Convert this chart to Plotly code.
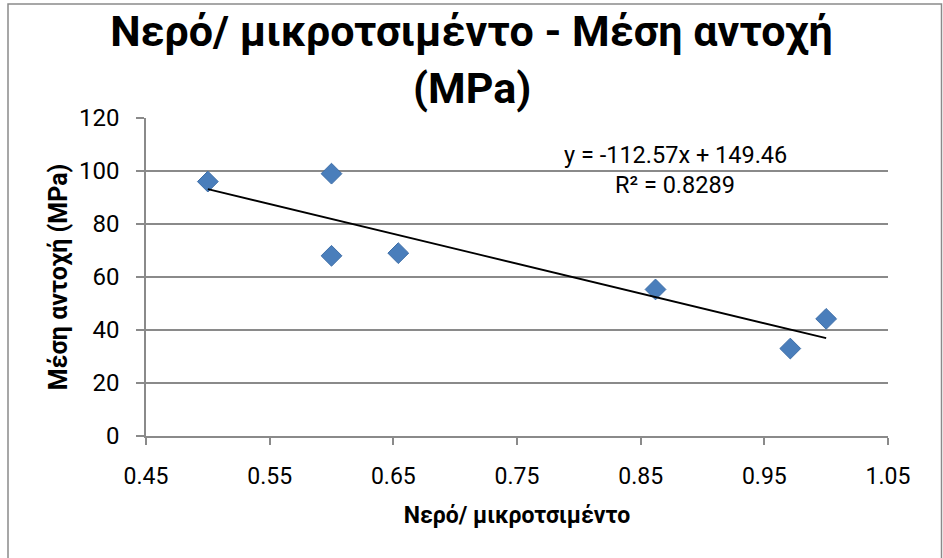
import plotly.graph_objects as go

# Data
water_cement = [0.5, 0.6, 0.6, 0.654, 0.862, 0.971, 1.0]
mean_strength = [96.0, 99.0, 68.0, 69.0, 55.3, 33.0, 44.2]

# Linear trendline shown in the chart (coefficients as labelled)
slope = -112.57
intercept = 149.46
r_squared = 0.8289

x_ticks = [0.45, 0.55, 0.65, 0.75, 0.85, 0.95, 1.05]
x_tick_labels = ["0.45", "0.55", "0.65", "0.75", "0.85", "0.95", "1.05"]
y_ticks = [0, 20, 40, 60, 80, 100, 120]

title_line1 = "Νερό/ μικροτσιμέντο - Μέση αντοχή"
title_line2 = "(MPa)"
x_title = "Νερό/ μικροτσιμέντο"
y_title = "Μέση αντοχή (MPa)"

trend_x = [min(water_cement), max(water_cement)]
trend_y = [slope * v + intercept for v in trend_x]

FONT = "Roboto, 'Noto Sans', sans-serif"
GRID = "#8a8a8a"
TITLE_SIZE = 43

fig = go.Figure()
fig.add_trace(go.Scatter(
    x=water_cement, y=mean_strength, mode="markers",
    marker=dict(symbol="diamond", size=16, color="#4a7ebb",
                line=dict(color="#3f6fa8", width=1)),
    showlegend=False, hoverinfo="x+y",
))
fig.add_trace(go.Scatter(
    x=trend_x, y=trend_y, mode="lines",
    line=dict(color="black", width=1.8),
    showlegend=False, hoverinfo="skip",
))

W, H = 943, 558
L, R, T, B = 146, 55, 118, 122
pw, ph = W - L - R, H - T - B

def px_x(p):
    return (p - L) / pw

def px_y(p):
    return (H - B - p) / ph

fig.update_layout(
    width=W, height=H,
    margin=dict(l=L, r=R, t=T, b=B),
    paper_bgcolor="white", plot_bgcolor="white",
    font=dict(family=FONT, color="black"),
    title=dict(text=title_line1, x=0.5, xanchor="center",
               y=1 - 31 / H, yanchor="middle", yref="container",
               font=dict(family=FONT, size=TITLE_SIZE, color="black", weight="bold")),
    xaxis=dict(
        range=[0.45, 1.05], tickvals=x_ticks, ticktext=x_tick_labels,
        showgrid=False, zeroline=False,
        showline=True, linecolor=GRID, linewidth=1.5,
        ticks="outside", ticklen=7, tickcolor=GRID, tickwidth=1.5,
        ticklabelstandoff=12,
        tickfont=dict(size=23, family=FONT, color="black"),
        title=dict(text=x_title, standoff=18,
                   font=dict(size=23, family=FONT, color="black", weight="bold")),
    ),
    yaxis=dict(
        range=[0, 120], tickvals=y_ticks,
        showgrid=True, gridcolor=GRID, gridwidth=1.5,
        zeroline=False,
        showline=True, linecolor=GRID, linewidth=1.5,
        ticks="outside", ticklen=8, tickcolor=GRID, tickwidth=1.5,
        ticklabelstandoff=12,
        tickfont=dict(size=24, family=FONT, color="black"),
        title=dict(text=y_title, standoff=4,
                   font=dict(size=25, family=FONT, color="black", weight="bold")),
    ),
    shapes=[dict(type="rect", xref="paper", yref="paper",
                 x0=px_x(8), x1=px_x(941.5), y0=px_y(570), y1=px_y(4),
                 line=dict(color="#8a8a8a", width=1.5), layer="below")],
    annotations=[
        dict(xref="paper", yref="paper", x=px_x(472), y=px_y(88),
             text=title_line2, showarrow=False,
             xanchor="center", yanchor="middle",
             font=dict(size=TITLE_SIZE, family=FONT, color="black", weight="bold")),
        dict(xref="paper", yref="paper", x=px_x(675), y=px_y(155),
             text=f"y = {slope:.2f}x + {intercept:.2f}", showarrow=False,
             xanchor="center", yanchor="middle",
             font=dict(size=23.5, family=FONT, color="black")),
        dict(xref="paper", yref="paper", x=px_x(675), y=px_y(185),
             text=f"R² = {r_squared:.4f}", showarrow=False,
             xanchor="center", yanchor="middle",
             font=dict(size=23.5, family=FONT, color="black")),
    ],
)

fig.write_html("out.html",
               config={"displayModeBar": False},
               post_script="document.body.style.margin='0';document.body.style.padding='0';")
